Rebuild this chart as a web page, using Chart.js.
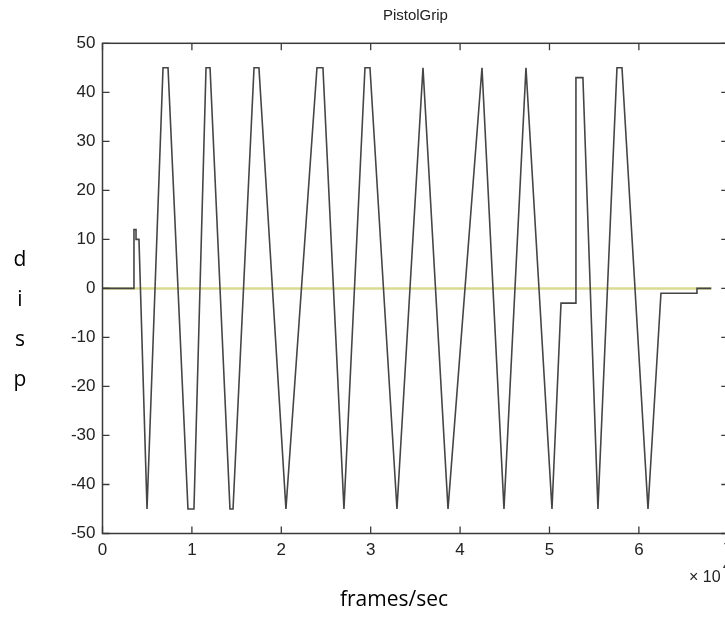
<!DOCTYPE html>
<html>
<head>
<meta charset="utf-8">
<script src="https://cdn.jsdelivr.net/npm/chart.js@4"></script>
<style>
  html, body { margin: 0; padding: 0; background: #fff; overflow: hidden; }
  #wrap { width: 725px; height: 618px; overflow: hidden; }
</style>
</head>
<body>
<div id="wrap"><canvas id="chart" width="740" height="618"></canvas></div>
<script>
// frame position (x 10^4) and displacement
const frameX = [0, 0.352, 0.352, 0.375, 0.375, 0.408, 0.498,
  0.677, 0.733, 0.956, 1.023, 1.158, 1.203, 1.426, 1.460, 1.695, 1.750,
  2.052, 2.399, 2.466, 2.701, 2.936, 2.992, 3.294, 3.585, 3.865, 4.245,
  4.491, 4.737, 5.028, 5.129, 5.296, 5.296, 5.374, 5.542, 5.755, 5.811,
  6.102, 6.247, 6.650, 6.650, 6.810];
const dispY = [0, 0, 12, 12, 10, 10, -45,
  45, 45, -45, -45, 45, 45, -45, -45, 45, 45,
  -45, 45, 45, -45, 45, 45, -45, 45, -45, 45,
  -45, 45, -45, -3, -3, 43, 43, -45, 45, 45,
  -45, -1, -1, 0, 0];

// reference line at zero
const zeroX = [0, 6.81];
const zeroY = [0, 0];

const xTicks = [0, 1, 2, 3, 4, 5, 6, 7];
const yTicks = [-50, -40, -30, -20, -10, 0, 10, 20, 30, 40, 50];

const axisColor = "#3a3a3a";
const tickFont = { family: "Liberation Sans", size: 17 };

const pairs = (xs, ys) => xs.map((x, i) => ({ x: x, y: ys[i] }));

// matlab style box with inward ticks + the extra texts
const decorPlugin = {
  id: "decor",
  afterDraw(chart) {
    const ctx = chart.ctx;
    const a = chart.chartArea;
    const sx = chart.scales.x;
    const sy = chart.scales.y;
    ctx.save();
    ctx.strokeStyle = axisColor;
    ctx.lineWidth = 1.5;
    ctx.strokeRect(a.left, a.top, a.right - a.left, a.bottom - a.top);

    ctx.lineWidth = 1.3;
    ctx.beginPath();
    xTicks.forEach(v => {
      const px = sx.getPixelForValue(v);
      ctx.moveTo(px, a.bottom); ctx.lineTo(px, a.bottom - 7);
      ctx.moveTo(px, a.top); ctx.lineTo(px, a.top + 7);
    });
    yTicks.forEach(v => {
      const py = sy.getPixelForValue(v);
      ctx.moveTo(a.left, py); ctx.lineTo(a.left + 7, py);
      ctx.moveTo(a.right, py); ctx.lineTo(a.right - 7, py);
    });
    ctx.stroke();

    ctx.fillStyle = "#222";
    ctx.font = "15px 'Liberation Sans'";
    ctx.textAlign = "center";
    ctx.textBaseline = "middle";
    ctx.fillText("PistolGrip", (a.left + a.right) / 2, 16);

    ctx.font = "16px 'Liberation Sans'";
    ctx.textAlign = "left";
    ctx.fillText("\u00d7 10", 689, 578);
    ctx.font = "13px 'Liberation Sans'";
    ctx.fillText("4", 723, 566);

    ctx.fillStyle = "#000";
    ctx.font = "21px 'Open Sans'";
    ctx.textAlign = "center";
    ctx.fillText("frames/sec", 394, 600);
    ["d", "i", "s", "p"].forEach((ch, i) => {
      ctx.fillText(ch, 20, 260 + i * 40);
    });
    ctx.restore();
  }
};

new Chart(document.getElementById("chart"), {
  type: "scatter",
  data: {
    datasets: [
      {
        label: "zero",
        data: pairs(zeroX, zeroY),
        showLine: true,
        borderColor: "rgb(218,218,146)",
        borderWidth: 2.5,
        pointRadius: 0,
        order: 2
      },
      {
        label: "PistolGrip",
        data: pairs(frameX, dispY),
        showLine: true,
        borderColor: "#454545",
        borderWidth: 1.6,
        pointRadius: 0,
        tension: 0,
        order: 1
      }
    ]
  },
  options: {
    responsive: false,
    animation: false,
    layout: { padding: { left: 0, top: 43.3, right: 11.7, bottom: 44.5 } },
    plugins: {
      legend: { display: false },
      tooltip: { enabled: false }
    },
    scales: {
      x: {
        type: "linear",
        min: 0,
        max: 7,
        afterFit: scale => { scale.height = 40; },
        afterBuildTicks: scale => { scale.ticks = xTicks.map(v => ({ value: v })); },
        grid: { display: false, drawTicks: false },
        border: { display: false },
        ticks: { color: "#222", font: tickFont, padding: 7, maxRotation: 0 }
      },
      y: {
        type: "linear",
        min: -50,
        max: 50,
        afterFit: scale => { scale.width = 102.5; },
        afterBuildTicks: scale => { scale.ticks = yTicks.map(v => ({ value: v })); },
        grid: { display: false, drawTicks: false },
        border: { display: false },
        ticks: { color: "#222", font: tickFont, padding: 7 }
      }
    }
  },
  plugins: [decorPlugin]
});
</script>
</body>
</html>
